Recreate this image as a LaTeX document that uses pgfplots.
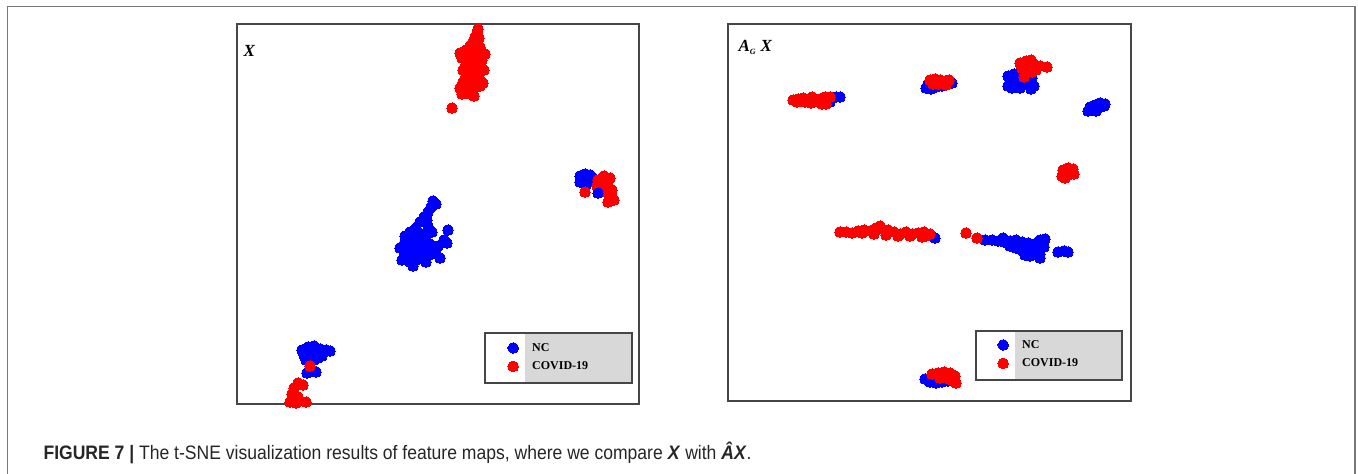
\documentclass[border=0pt]{standalone}
\usepackage{pgfplots}
\pgfplotsset{compat=1.18}
\usepackage{fontspec}
\setmainfont{Liberation Serif}
\newfontfamily\capfont[FakeStretch=0.9]{Liberation Sans}
\definecolor{framegray}{RGB}{120,120,120}
\definecolor{boxgray}{RGB}{70,70,70}
\definecolor{leggray}{RGB}{216,216,216}
\pgfplotsset{
  tsne/.style={
    scale only axis, ticks=none, y dir=reverse,
    axis line style={draw=boxgray, line width=1.3pt},
    clip=true,
    legend cell align=left,
    legend style={draw=none, fill=none, inner sep=0pt, row sep=5pt,
      font=\bfseries\fontsize{12}{13}\selectfont},
    legend image code/.code={\path[draw=none, fill=none] (0pt,-1pt) rectangle (25pt,1pt); \draw[##1] plot coordinates {(8pt,0pt)};},
  },
  ncdot/.style={color=blue, only marks, mark=*, mark size=5.3pt, mark options={draw=blue, fill=blue, line width=0pt}},
  covdot/.style={color=red, only marks, mark=*, mark size=5.3pt, mark options={draw=red, fill=red, line width=0pt}},
}
\begin{document}
\begin{tikzpicture}[x=1pt,y=1pt]
\useasboundingbox (0,0) rectangle (1358,474);
\fill[white] (0,0) rectangle (1358,474);
\draw[framegray, line width=1.8pt] (7.5,0) -- (7.5,467.5) -- (1355,467.5) -- (1355,0);
% ---------------- left axis ----------------
\begin{axis}[tsne, width=402pt, height=380pt, at={(237pt,70pt)}, anchor=south west,
  xmin=237, xmax=639, ymin=24, ymax=404,
  legend style={at={(axis cs:505,341)}, anchor=north west}]
\fill[white] (axis cs:485,333) rectangle (axis cs:525,383);
\fill[leggray] (axis cs:525,333) rectangle (axis cs:632,383);
\draw[boxgray, line width=1.3pt] (axis cs:485,333) rectangle (axis cs:632,383);
\addplot[ncdot] coordinates {
(433,201)(431,207)(428,212)(424,217)(420,222)(428,226)(416,228)(410,232)(405,236)
(412,238)(420,234)(426,236)(432,232)(448,230)(444,240)(438,246)(405,242)(400,248)
(410,248)(418,246)(414,252)(420,256)(426,250)(432,254)(440,258)(404,256)(410,262)
(416,260)(426,262)(413,266)(436,250)(447,243)(402,260)(408,244)(430,244)(422,242)
(408,254)(436,204)(427,220)
(580,176)(585,174)(590,175)(583,180)(588,181)(593,178)(580,182)(586,185)
(302,350)(308,347)(314,346)(320,349)(326,350)(330,351)(304,355)(310,354)(316,353)
(322,356)(306,360)(314,360)(318,358)(310,368)(316,372)(307,373)
};
\addlegendentry{NC}
\addplot[covdot] coordinates {
(478,29)(477,33)(475,37)(479,38)(473,42)(477,44)(470,46)(480,47)(466,50)(474,50)
(460,53)(468,54)(482,53)(485,54)(462,58)(470,60)(476,58)(482,60)(466,64)(474,66)
(480,66)(463,70)(470,72)(478,72)(484,70)(466,76)(474,78)(480,80)(463,82)(470,84)
(483,83)(460,88)(466,90)(474,88)(480,86)(462,94)(470,94)(474,96)(452,108)
(598,180)(604,176)(610,178)(600,185)(608,185)(612,190)(605,192)(612,197)(608,202)
(614,200)(585,192)(597,186)
(310,366)(298,383)(294,388)(303,385)(292,394)(298,397)(290,402)(306,402)(296,403)
};
\addlegendentry{COVID-19}
\addplot[ncdot, forget plot] coordinates {(598,193)};
\node[anchor=west, font=\bfseries\itshape\fontsize{17}{17}\selectfont] at (axis cs:240,51) {X};
\end{axis}
% ---------------- right axis ----------------
\begin{axis}[tsne, width=403pt, height=377pt, at={(728pt,73pt)}, anchor=south west,
  xmin=728, xmax=1131, ymin=24, ymax=401,
  legend style={at={(axis cs:995,338)}, anchor=north west}]
\fill[white] (axis cs:976,331) rectangle (axis cs:1015,380);
\fill[leggray] (axis cs:1015,331) rectangle (axis cs:1122,380);
\draw[boxgray, line width=1.3pt] (axis cs:976,331) rectangle (axis cs:1122,380);
\addplot[ncdot] coordinates {
(826,100)(832,98)(836,97)(840,97)(830,102)(823,103)
(926,88)(931,89)(936,87)(942,86)(948,84)(952,83)(928,84)
(1008,76)(1014,74)(1020,76)(1026,76)(1032,78)(1010,82)(1016,83)(1022,84)(1028,84)
(1034,86)(1012,88)(1020,88)(1031,89)(1008,86)
(1090,107)(1095,105)(1100,103)(1105,104)(1092,110)(1098,108)(1104,106)(1088,111)(1096,111)
(935,238)
(985,240)(992,240)(998,241)(1004,242)(1010,241)(1016,240)(1022,242)(1028,243)(1034,244)
(1040,240)(1045,239)(1010,246)(1016,248)(1022,250)(1028,252)(1034,253)(1040,254)
(1036,248)(1030,256)(1040,258)(1025,255)(1058,252)(1064,251)(1068,252)(1044,247)(1003,238)
(925,379)(930,382)(936,383)(942,382)(948,381)(932,377)
};
\addlegendentry{NC}
\addplot[covdot] coordinates {
(793,100)(798,99)(803,98)(808,99)(812,97)(815,100)(820,99)(825,97)(830,97)(805,102)
(797,102)(818,102)(811,103)(822,104)(826,104)
(930,80)(935,79)(940,80)(945,81)(949,80)(933,84)(939,84)(946,85)
(1020,63)(1026,61)(1031,60)(1034,64)(1028,66)(1022,68)(1036,70)(1032,72)(1040,66)
(1047,67)(1024,77)
(1063,170)(1068,168)(1073,169)(1062,176)(1068,175)(1074,174)(1065,178)(1071,172)
(840,232)(846,232)(852,233)(858,231)(864,230)(870,231)(876,228)(882,229)(888,230)
(894,232)(900,234)(906,232)(912,234)(918,233)(924,232)(926,236)(922,237)(910,236)
(898,236)(886,235)(874,234)(862,233)(880,226)(930,234)
(966,233)(977,238)
(932,374)(938,373)(944,372)(950,373)(955,376)(952,380)(956,383)(940,378)(946,378)
};
\addlegendentry{COVID-19}
\node[anchor=west, font=\bfseries\itshape\fontsize{17}{17}\selectfont] at (axis cs:735,47) {A\raisebox{-3pt}{\fontsize{8}{8}\selectfont\itshape G}\hspace{5pt}X};
\end{axis}
\node[anchor=base west, text=black!85, font=\capfont\fontsize{19.5}{22}\selectfont] at (40,14)
  {\textbf{FIGURE 7 |} The t-SNE visualization results of feature maps, where we compare \textbf{\textit{X}} with \textbf{\textit{ÂX}}.};
\end{tikzpicture}
\end{document}
